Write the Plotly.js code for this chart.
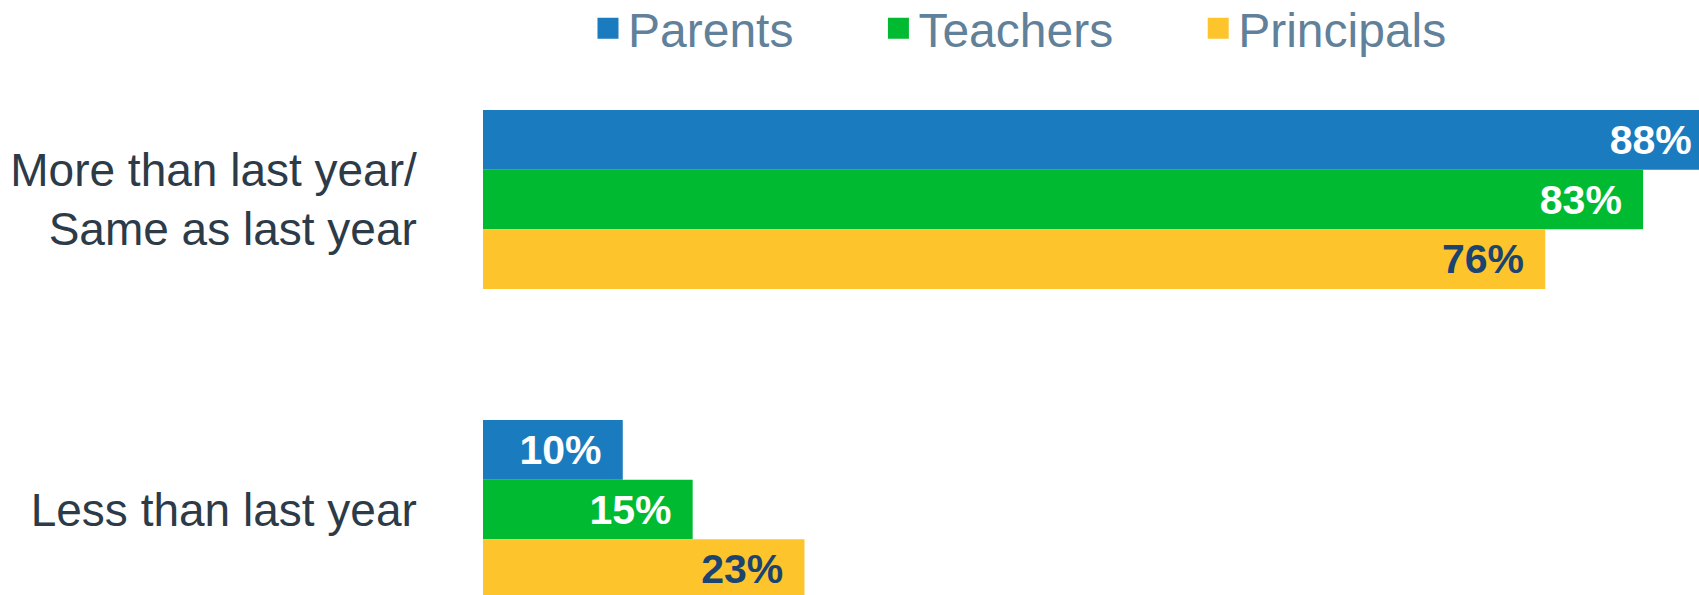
<!DOCTYPE html>
<html>
<head>
<meta charset="utf-8">
<script src="https://cdn.plot.ly/plotly-3.0.1.min.js"></script>
<style>html,body{margin:0;padding:0;background:#fff;}#chart{width:1699px;height:595px;}</style>
</head>
<body>
<div id="chart"></div>
<script>
const categories = ["More than last year/<br>Same as last year", "Less than last year"];
const seriesNames = ["Parents", "Teachers", "Principals"];
const parents = [88, 10];
const teachers = [83, 15];
const principals = [76, 23];

const colors = ["#1a7bbf", "#00bb31", "#fec42c"];
const labelColors = ["#ffffff", "#ffffff", "#1b4470"];
const values = [parents, teachers, principals];
const FONT = "Liberation Sans, Arial, sans-serif";

const traces = [];
values.forEach((vals, i) => {
  traces.push({
    type: "bar",
    orientation: "h",
    name: seriesNames[i],
    x: vals,
    y: categories,
    marker: {color: colors[i]},
    texttemplate: "%{x}%\u00a0\u2006",
    textposition: "inside",
    insidetextanchor: "end",
    constraintext: "none",
    textfont: {family: FONT, size: 41, weight: "bold", color: labelColors[i]},
    showlegend: false,
    hoverinfo: "skip"
  });
});
values.forEach((vals, i) => {
  traces.push({
    type: "scatter",
    mode: "markers",
    name: seriesNames[i] + "\u00a0\u00a0\u00a0\u00a0\u00a0\u00a0",
    x: [null],
    y: [null],
    marker: {symbol: "square", size: 16, color: colors[i], line: {color: colors[i], width: 5}},
    showlegend: true,
    hoverinfo: "skip"
  });
});

const layout = {
  width: 1699,
  height: 595,
  margin: {l: 483, r: 0, t: 80, b: 0, pad: 0, autoexpand: false},
  paper_bgcolor: "#ffffff",
  plot_bgcolor: "#ffffff",
  barmode: "group",
  bargap: 0.4226,
  bargroupgap: 0,
  showlegend: true,
  legend: {
    orientation: "h",
    x: 0.4745,
    xanchor: "center",
    y: 1.1,
    yanchor: "middle",
    font: {family: FONT, size: 48, color: "#61819a"},
    bgcolor: "rgba(0,0,0,0)"
  },
  xaxis: {
    range: [0, 87],
    showgrid: false,
    zeroline: false,
    showline: false,
    showticklabels: false,
    ticks: ""
  },
  yaxis: {
    type: "category",
    categoryorder: "array",
    categoryarray: categories,
    range: [1.2758, -0.3855],
    showgrid: false,
    zeroline: false,
    showline: false,
    ticks: "outside",
    ticklen: 56,
    tickcolor: "rgba(0,0,0,0)",
    tickfont: {family: FONT, size: 46, color: "#2c3b47"}
  }
};

Plotly.newPlot("chart", traces, layout, {displayModeBar: false, staticPlot: true});
</script>
</body>
</html>
